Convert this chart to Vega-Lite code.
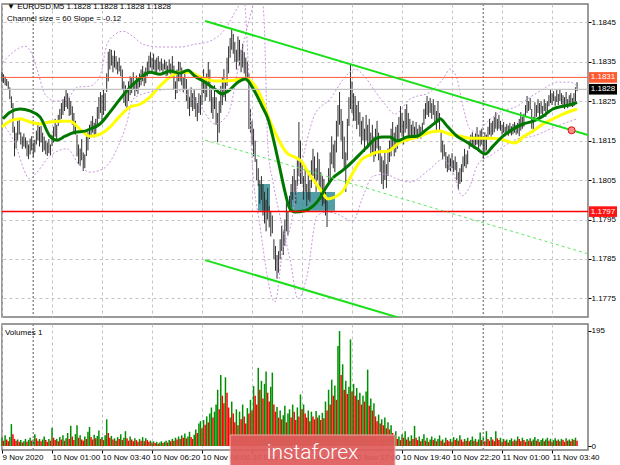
{
"$schema":"https://vega.github.io/schema/vega-lite/v6.json",
"background":"#ffffff",
"padding":{"left":-5,"top":2,"right":0,"bottom":0},
"spacing":3,
"config":{"view":{"stroke":"#7a7a7a","strokeWidth":1.5},"axis":{"labelFont":"Liberation Sans","labelFontSize":8,"labelColor":"#000000","tickColor":"#000000"},"text":{"font":"Liberation Sans"}},
"datasets":{
"bars":[
{"i":0,"h":1.18323,"l":1.18300,"v":14,"c":"g"},{"i":1,"h":1.18318,"l":1.18296,"v":9,"c":"r"},{"i":2,"h":1.18312,"l":1.18290,"v":18,"c":"g"},{"i":3,"h":1.18306,"l":1.18288,"v":11,"c":"r"},{"i":4,"h":1.18300,"l":1.18280,"v":8,"c":"r"},{"i":5,"h":1.18285,"l":1.18255,"v":15,"c":"g"},{"i":6,"h":1.18262,"l":1.18232,"v":37,"c":"g"},{"i":7,"h":1.18245,"l":1.18170,"v":20,"c":"r"},{"i":8,"h":1.18185,"l":1.18110,"v":12,"c":"r"},{"i":9,"h":1.18170,"l":1.18130,"v":9,"c":"r"},
{"i":10,"h":1.18200,"l":1.18150,"v":11,"c":"g"},{"i":11,"h":1.18205,"l":1.18165,"v":7,"c":"r"},{"i":12,"h":1.18171,"l":1.18140,"v":10,"c":"g"},{"i":13,"h":1.18160,"l":1.18129,"v":6,"c":"r"},{"i":14,"h":1.18168,"l":1.18135,"v":8,"c":"g"},{"i":15,"h":1.18158,"l":1.18130,"v":12,"c":"g"},{"i":16,"h":1.18150,"l":1.18110,"v":7,"c":"r"},{"i":17,"h":1.18140,"l":1.18103,"v":10,"c":"g"},{"i":18,"h":1.18155,"l":1.18115,"v":14,"c":"g"},{"i":19,"h":1.18161,"l":1.18125,"v":9,"c":"r"},
{"i":20,"h":1.18145,"l":1.18108,"v":11,"c":"g"},{"i":21,"h":1.18152,"l":1.18120,"v":20,"c":"g"},{"i":22,"h":1.18175,"l":1.18140,"v":13,"c":"r"},{"i":23,"h":1.18197,"l":1.18150,"v":9,"c":"r"},{"i":24,"h":1.18185,"l":1.18135,"v":12,"c":"g"},{"i":25,"h":1.18187,"l":1.18145,"v":8,"c":"r"},{"i":26,"h":1.18170,"l":1.18121,"v":11,"c":"g"},{"i":27,"h":1.18160,"l":1.18125,"v":16,"c":"g"},{"i":28,"h":1.18150,"l":1.18115,"v":10,"c":"r"},{"i":29,"h":1.18145,"l":1.18111,"v":7,"c":"r"},
{"i":30,"h":1.18154,"l":1.18118,"v":12,"c":"g"},{"i":31,"h":1.18140,"l":1.18112,"v":9,"c":"r"},{"i":32,"h":1.18165,"l":1.18136,"v":31,"c":"g"},{"i":33,"h":1.18185,"l":1.18145,"v":14,"c":"r"},{"i":34,"h":1.18205,"l":1.18160,"v":10,"c":"r"},{"i":35,"h":1.18190,"l":1.18150,"v":12,"c":"g"},{"i":36,"h":1.18215,"l":1.18187,"v":8,"c":"r"},{"i":37,"h":1.18230,"l":1.18195,"v":15,"c":"g"},{"i":38,"h":1.18245,"l":1.18205,"v":11,"c":"r"},{"i":39,"h":1.18255,"l":1.18215,"v":18,"c":"g"},
{"i":40,"h":1.18262,"l":1.18225,"v":9,"c":"r"},{"i":41,"h":1.18280,"l":1.18235,"v":13,"c":"g"},{"i":42,"h":1.18270,"l":1.18230,"v":22,"c":"g"},{"i":43,"h":1.18258,"l":1.18212,"v":12,"c":"r"},{"i":44,"h":1.18250,"l":1.18215,"v":34,"c":"g"},{"i":45,"h":1.18237,"l":1.18190,"v":16,"c":"r"},{"i":46,"h":1.18220,"l":1.18171,"v":10,"c":"r"},{"i":47,"h":1.18200,"l":1.18165,"v":20,"c":"g"},{"i":48,"h":1.18165,"l":1.18110,"v":35,"c":"g"},{"i":49,"h":1.18140,"l":1.18090,"v":14,"c":"r"},
{"i":50,"h":1.18130,"l":1.18086,"v":18,"c":"g"},{"i":51,"h":1.18154,"l":1.18100,"v":11,"c":"r"},{"i":52,"h":1.18120,"l":1.18073,"v":9,"c":"r"},{"i":53,"h":1.18115,"l":1.18080,"v":16,"c":"g"},{"i":54,"h":1.18160,"l":1.18111,"v":12,"c":"r"},{"i":55,"h":1.18171,"l":1.18125,"v":24,"c":"g"},{"i":56,"h":1.18190,"l":1.18154,"v":32,"c":"g"},{"i":57,"h":1.18200,"l":1.18160,"v":15,"c":"r"},{"i":58,"h":1.18212,"l":1.18170,"v":11,"c":"r"},{"i":59,"h":1.18195,"l":1.18158,"v":19,"c":"g"},
{"i":60,"h":1.18205,"l":1.18165,"v":13,"c":"r"},{"i":61,"h":1.18235,"l":1.18187,"v":17,"c":"g"},{"i":62,"h":1.18260,"l":1.18205,"v":26,"c":"g"},{"i":63,"h":1.18273,"l":1.18220,"v":12,"c":"r"},{"i":64,"h":1.18265,"l":1.18197,"v":15,"c":"g"},{"i":65,"h":1.18280,"l":1.18215,"v":10,"c":"r"},{"i":66,"h":1.18270,"l":1.18225,"v":18,"c":"g"},{"i":67,"h":1.18320,"l":1.18273,"v":45,"c":"g"},{"i":68,"h":1.18375,"l":1.18300,"v":22,"c":"r"},{"i":69,"h":1.18382,"l":1.18330,"v":14,"c":"r"},
{"i":70,"h":1.18380,"l":1.18340,"v":17,"c":"g"},{"i":71,"h":1.18365,"l":1.18323,"v":11,"c":"r"},{"i":72,"h":1.18378,"l":1.18335,"v":13,"c":"g"},{"i":73,"h":1.18364,"l":1.18330,"v":9,"c":"r"},{"i":74,"h":1.18350,"l":1.18318,"v":15,"c":"g"},{"i":75,"h":1.18360,"l":1.18325,"v":12,"c":"r"},{"i":76,"h":1.18340,"l":1.18313,"v":20,"c":"g"},{"i":77,"h":1.18330,"l":1.18280,"v":10,"c":"r"},{"i":78,"h":1.18300,"l":1.18245,"v":14,"c":"g"},{"i":79,"h":1.18290,"l":1.18237,"v":25,"c":"g"},
{"i":80,"h":1.18275,"l":1.18230,"v":13,"c":"r"},{"i":81,"h":1.18300,"l":1.18250,"v":9,"c":"r"},{"i":82,"h":1.18313,"l":1.18265,"v":16,"c":"g"},{"i":83,"h":1.18310,"l":1.18270,"v":11,"c":"r"},{"i":84,"h":1.18323,"l":1.18280,"v":8,"c":"r"},{"i":85,"h":1.18300,"l":1.18263,"v":13,"c":"g"},{"i":86,"h":1.18315,"l":1.18275,"v":10,"c":"r"},{"i":87,"h":1.18305,"l":1.18268,"v":7,"c":"r"},{"i":88,"h":1.18320,"l":1.18285,"v":12,"c":"g"},{"i":89,"h":1.18330,"l":1.18290,"v":9,"c":"r"},
{"i":90,"h":1.18339,"l":1.18300,"v":15,"c":"g"},{"i":91,"h":1.18325,"l":1.18288,"v":8,"c":"r"},{"i":92,"h":1.18335,"l":1.18295,"v":13,"c":"g"},{"i":93,"h":1.18350,"l":1.18313,"v":10,"c":"r"},{"i":94,"h":1.18365,"l":1.18320,"v":7,"c":"r"},{"i":95,"h":1.18374,"l":1.18335,"v":9,"c":"g"},{"i":96,"h":1.18360,"l":1.18325,"v":6,"c":"r"},{"i":97,"h":1.18370,"l":1.18330,"v":8,"c":"g"},{"i":98,"h":1.18355,"l":1.18318,"v":5,"c":"r"},{"i":99,"h":1.18360,"l":1.18323,"v":7,"c":"g"},
{"i":100,"h":1.18364,"l":1.18330,"v":4,"c":"r"},{"i":101,"h":1.18350,"l":1.18325,"v":6,"c":"g"},{"i":102,"h":1.18358,"l":1.18328,"v":8,"c":"g"},{"i":103,"h":1.18345,"l":1.18323,"v":5,"c":"r"},{"i":104,"h":1.18355,"l":1.18330,"v":7,"c":"g"},{"i":105,"h":1.18350,"l":1.18313,"v":9,"c":"g"},{"i":106,"h":1.18340,"l":1.18315,"v":6,"c":"r"},{"i":107,"h":1.18356,"l":1.18320,"v":10,"c":"g"},{"i":108,"h":1.18345,"l":1.18318,"v":8,"c":"r"},{"i":109,"h":1.18364,"l":1.18320,"v":12,"c":"g"},
{"i":110,"h":1.18340,"l":1.18280,"v":9,"c":"r"},{"i":111,"h":1.18300,"l":1.18255,"v":14,"c":"g"},{"i":112,"h":1.18330,"l":1.18270,"v":11,"c":"r"},{"i":113,"h":1.18350,"l":1.18300,"v":16,"c":"g"},{"i":114,"h":1.18349,"l":1.18300,"v":12,"c":"r"},{"i":115,"h":1.18335,"l":1.18290,"v":18,"c":"g"},{"i":116,"h":1.18310,"l":1.18273,"v":14,"c":"r"},{"i":117,"h":1.18320,"l":1.18280,"v":21,"c":"g"},{"i":118,"h":1.18306,"l":1.18250,"v":13,"c":"r"},{"i":119,"h":1.18280,"l":1.18230,"v":16,"c":"g"},
{"i":120,"h":1.18260,"l":1.18212,"v":24,"c":"g"},{"i":121,"h":1.18285,"l":1.18235,"v":15,"c":"r"},{"i":122,"h":1.18270,"l":1.18225,"v":12,"c":"r"},{"i":123,"h":1.18280,"l":1.18230,"v":19,"c":"g"},{"i":124,"h":1.18260,"l":1.18210,"v":28,"c":"g"},{"i":125,"h":1.18245,"l":1.18199,"v":22,"c":"r"},{"i":126,"h":1.18270,"l":1.18220,"v":38,"c":"g"},{"i":127,"h":1.18265,"l":1.18215,"v":42,"c":"g"},{"i":128,"h":1.18300,"l":1.18240,"v":30,"c":"r"},{"i":129,"h":1.18331,"l":1.18270,"v":44,"c":"g"},
{"i":130,"h":1.18310,"l":1.18250,"v":36,"c":"r"},{"i":131,"h":1.18320,"l":1.18260,"v":50,"c":"g"},{"i":132,"h":1.18349,"l":1.18290,"v":40,"c":"r"},{"i":133,"h":1.18330,"l":1.18250,"v":55,"c":"g"},{"i":134,"h":1.18280,"l":1.18220,"v":65,"c":"g"},{"i":135,"h":1.18260,"l":1.18205,"v":48,"c":"r"},{"i":136,"h":1.18290,"l":1.18230,"v":58,"c":"g"},{"i":137,"h":1.18260,"l":1.18190,"v":70,"c":"g"},{"i":138,"h":1.18220,"l":1.18146,"v":95,"c":"g"},{"i":139,"h":1.18250,"l":1.18170,"v":62,"c":"r"},
{"i":140,"h":1.18288,"l":1.18220,"v":120,"c":"g"},{"i":141,"h":1.18310,"l":1.18240,"v":85,"c":"r"},{"i":142,"h":1.18331,"l":1.18260,"v":72,"c":"r"},{"i":143,"h":1.18300,"l":1.18250,"v":116,"c":"g"},{"i":144,"h":1.18360,"l":1.18288,"v":90,"c":"r"},{"i":145,"h":1.18389,"l":1.18320,"v":65,"c":"r"},{"i":146,"h":1.18410,"l":1.18360,"v":48,"c":"r"},{"i":147,"h":1.18432,"l":1.18380,"v":75,"c":"g"},{"i":148,"h":1.18420,"l":1.18370,"v":55,"c":"r"},{"i":149,"h":1.18400,"l":1.18349,"v":40,"c":"r"},
{"i":150,"h":1.18380,"l":1.18330,"v":62,"c":"g"},{"i":151,"h":1.18414,"l":1.18350,"v":35,"c":"r"},{"i":152,"h":1.18405,"l":1.18340,"v":58,"c":"g"},{"i":153,"h":1.18380,"l":1.18323,"v":45,"c":"r"},{"i":154,"h":1.18395,"l":1.18335,"v":70,"c":"g"},{"i":155,"h":1.18374,"l":1.18320,"v":50,"c":"r"},{"i":156,"h":1.18360,"l":1.18306,"v":38,"c":"r"},{"i":157,"h":1.18350,"l":1.18310,"v":64,"c":"g"},{"i":158,"h":1.18320,"l":1.18179,"v":55,"c":"r"},{"i":159,"h":1.18230,"l":1.18170,"v":78,"c":"g"},
{"i":160,"h":1.18200,"l":1.18140,"v":60,"c":"r"},{"i":161,"h":1.18180,"l":1.18110,"v":101,"c":"g"},{"i":162,"h":1.18150,"l":1.18096,"v":85,"c":"r"},{"i":163,"h":1.18103,"l":1.18050,"v":70,"c":"r"},{"i":164,"h":1.18080,"l":1.18035,"v":132,"c":"g"},{"i":165,"h":1.18050,"l":1.17990,"v":95,"c":"r"},{"i":166,"h":1.18060,"l":1.18000,"v":110,"c":"g"},{"i":167,"h":1.18040,"l":1.17960,"v":80,"c":"r"},{"i":168,"h":1.18020,"l":1.17940,"v":105,"c":"g"},{"i":169,"h":1.18000,"l":1.17920,"v":126,"c":"g"},
{"i":170,"h":1.18030,"l":1.17950,"v":90,"c":"r"},{"i":171,"h":1.17984,"l":1.17930,"v":75,"c":"r"},{"i":172,"h":1.17970,"l":1.17907,"v":100,"c":"g"},{"i":173,"h":1.17960,"l":1.17915,"v":124,"c":"g"},{"i":174,"h":1.17900,"l":1.17850,"v":70,"c":"r"},{"i":175,"h":1.17883,"l":1.17820,"v":58,"c":"r"},{"i":176,"h":1.17860,"l":1.17800,"v":66,"c":"g"},{"i":177,"h":1.17870,"l":1.17815,"v":48,"c":"r"},{"i":178,"h":1.17900,"l":1.17850,"v":60,"c":"g"},{"i":179,"h":1.17934,"l":1.17870,"v":45,"c":"r"},
{"i":180,"h":1.17920,"l":1.17860,"v":52,"c":"g"},{"i":181,"h":1.17950,"l":1.17883,"v":68,"c":"g"},{"i":182,"h":1.17994,"l":1.17920,"v":40,"c":"r"},{"i":183,"h":1.17970,"l":1.17910,"v":55,"c":"g"},{"i":184,"h":1.18010,"l":1.17969,"v":62,"c":"g"},{"i":185,"h":1.18040,"l":1.17980,"v":48,"c":"r"},{"i":186,"h":1.18060,"l":1.18000,"v":70,"c":"g"},{"i":187,"h":1.18078,"l":1.18020,"v":58,"c":"r"},{"i":188,"h":1.18050,"l":1.17990,"v":44,"c":"r"},{"i":189,"h":1.18100,"l":1.18035,"v":65,"c":"g"},
{"i":190,"h":1.18197,"l":1.18060,"v":50,"c":"r"},{"i":191,"h":1.18150,"l":1.18040,"v":87,"c":"g"},{"i":192,"h":1.18100,"l":1.18040,"v":62,"c":"r"},{"i":193,"h":1.18060,"l":1.18000,"v":70,"c":"g"},{"i":194,"h":1.18086,"l":1.18020,"v":55,"c":"r"},{"i":195,"h":1.18040,"l":1.17984,"v":48,"c":"r"},{"i":196,"h":1.18070,"l":1.18000,"v":60,"c":"g"},{"i":197,"h":1.18050,"l":1.17995,"v":42,"c":"r"},{"i":198,"h":1.18100,"l":1.18030,"v":58,"c":"g"},{"i":199,"h":1.18129,"l":1.18060,"v":50,"c":"r"},
{"i":200,"h":1.18110,"l":1.18040,"v":45,"c":"r"},{"i":201,"h":1.18080,"l":1.18020,"v":59,"c":"g"},{"i":202,"h":1.18120,"l":1.18050,"v":48,"c":"r"},{"i":203,"h":1.18103,"l":1.18030,"v":52,"c":"g"},{"i":204,"h":1.18070,"l":1.18000,"v":44,"c":"r"},{"i":205,"h":1.18060,"l":1.17984,"v":56,"c":"g"},{"i":206,"h":1.18053,"l":1.17990,"v":47,"c":"r"},{"i":207,"h":1.18020,"l":1.17960,"v":75,"c":"g"},{"i":208,"h":1.18000,"l":1.17931,"v":60,"c":"r"},{"i":209,"h":1.18080,"l":1.18035,"v":95,"c":"g"},
{"i":210,"h":1.18120,"l":1.18050,"v":70,"c":"r"},{"i":211,"h":1.18161,"l":1.18090,"v":112,"c":"g"},{"i":212,"h":1.18140,"l":1.18080,"v":85,"c":"r"},{"i":213,"h":1.18150,"l":1.18070,"v":102,"c":"g"},{"i":214,"h":1.18200,"l":1.18120,"v":78,"c":"r"},{"i":215,"h":1.18240,"l":1.18160,"v":169,"c":"g"},{"i":216,"h":1.18273,"l":1.18190,"v":194,"c":"g"},{"i":217,"h":1.18230,"l":1.18150,"v":120,"c":"r"},{"i":218,"h":1.18200,"l":1.18103,"v":138,"c":"g"},{"i":219,"h":1.18160,"l":1.18080,"v":95,"c":"r"},
{"i":220,"h":1.18120,"l":1.18020,"v":110,"c":"g"},{"i":221,"h":1.18205,"l":1.18100,"v":88,"c":"r"},{"i":222,"h":1.18260,"l":1.18187,"v":100,"c":"g"},{"i":223,"h":1.18344,"l":1.18230,"v":180,"c":"g"},{"i":224,"h":1.18300,"l":1.18220,"v":92,"c":"r"},{"i":225,"h":1.18270,"l":1.18200,"v":105,"c":"g"},{"i":226,"h":1.18263,"l":1.18200,"v":85,"c":"r"},{"i":227,"h":1.18240,"l":1.18179,"v":98,"c":"g"},{"i":228,"h":1.18250,"l":1.18190,"v":78,"c":"r"},{"i":229,"h":1.18222,"l":1.18160,"v":90,"c":"g"},
{"i":230,"h":1.18200,"l":1.18140,"v":70,"c":"r"},{"i":231,"h":1.18210,"l":1.18150,"v":85,"c":"g"},{"i":232,"h":1.18180,"l":1.18121,"v":75,"c":"r"},{"i":233,"h":1.18215,"l":1.18150,"v":92,"c":"g"},{"i":234,"h":1.18190,"l":1.18130,"v":129,"c":"g"},{"i":235,"h":1.18205,"l":1.18140,"v":68,"c":"r"},{"i":236,"h":1.18170,"l":1.18110,"v":80,"c":"g"},{"i":237,"h":1.18190,"l":1.18120,"v":60,"c":"r"},{"i":238,"h":1.18160,"l":1.18096,"v":72,"c":"g"},{"i":239,"h":1.18180,"l":1.18110,"v":50,"c":"r"},
{"i":240,"h":1.18200,"l":1.18130,"v":42,"c":"r"},{"i":241,"h":1.18170,"l":1.18100,"v":53,"c":"g"},{"i":242,"h":1.18136,"l":1.18070,"v":38,"c":"r"},{"i":243,"h":1.18110,"l":1.18040,"v":45,"c":"g"},{"i":244,"h":1.18100,"l":1.18027,"v":35,"c":"r"},{"i":245,"h":1.18120,"l":1.18050,"v":48,"c":"g"},{"i":246,"h":1.18090,"l":1.18030,"v":30,"c":"r"},{"i":247,"h":1.18130,"l":1.18060,"v":40,"c":"g"},{"i":248,"h":1.18150,"l":1.18096,"v":28,"c":"r"},{"i":249,"h":1.18180,"l":1.18110,"v":35,"c":"g"},
{"i":250,"h":1.18197,"l":1.18130,"v":22,"c":"r"},{"i":251,"h":1.18170,"l":1.18110,"v":18,"c":"r"},{"i":252,"h":1.18185,"l":1.18120,"v":25,"c":"g"},{"i":253,"h":1.18190,"l":1.18129,"v":12,"c":"r"},{"i":254,"h":1.18210,"l":1.18150,"v":16,"c":"g"},{"i":255,"h":1.18237,"l":1.18170,"v":10,"c":"r"},{"i":256,"h":1.18220,"l":1.18160,"v":20,"c":"g"},{"i":257,"h":1.18200,"l":1.18140,"v":14,"c":"r"},{"i":258,"h":1.18230,"l":1.18170,"v":25,"c":"g"},{"i":259,"h":1.18242,"l":1.18180,"v":11,"c":"r"},
{"i":260,"h":1.18220,"l":1.18161,"v":15,"c":"g"},{"i":261,"h":1.18205,"l":1.18160,"v":9,"c":"r"},{"i":262,"h":1.18190,"l":1.18154,"v":18,"c":"g"},{"i":263,"h":1.18200,"l":1.18160,"v":12,"c":"r"},{"i":264,"h":1.18185,"l":1.18155,"v":34,"c":"g"},{"i":265,"h":1.18197,"l":1.18160,"v":14,"c":"r"},{"i":266,"h":1.18180,"l":1.18154,"v":10,"c":"r"},{"i":267,"h":1.18190,"l":1.18158,"v":16,"c":"g"},{"i":268,"h":1.18185,"l":1.18155,"v":8,"c":"r"},{"i":269,"h":1.18195,"l":1.18165,"v":12,"c":"g"},
{"i":270,"h":1.18230,"l":1.18190,"v":20,"c":"g"},{"i":271,"h":1.18245,"l":1.18205,"v":9,"c":"r"},{"i":272,"h":1.18263,"l":1.18215,"v":14,"c":"g"},{"i":273,"h":1.18250,"l":1.18210,"v":7,"c":"r"},{"i":274,"h":1.18258,"l":1.18220,"v":11,"c":"g"},{"i":275,"h":1.18245,"l":1.18205,"v":16,"c":"g"},{"i":276,"h":1.18255,"l":1.18215,"v":10,"c":"r"},{"i":277,"h":1.18240,"l":1.18190,"v":13,"c":"g"},{"i":278,"h":1.18225,"l":1.18171,"v":8,"c":"r"},{"i":279,"h":1.18250,"l":1.18195,"v":12,"c":"g"},
{"i":280,"h":1.18220,"l":1.18175,"v":18,"c":"g"},{"i":281,"h":1.18171,"l":1.18120,"v":9,"c":"r"},{"i":282,"h":1.18150,"l":1.18103,"v":11,"c":"g"},{"i":283,"h":1.18140,"l":1.18110,"v":6,"c":"r"},{"i":284,"h":1.18121,"l":1.18080,"v":14,"c":"g"},{"i":285,"h":1.18110,"l":1.18070,"v":10,"c":"r"},{"i":286,"h":1.18115,"l":1.18075,"v":8,"c":"r"},{"i":287,"h":1.18105,"l":1.18072,"v":12,"c":"g"},{"i":288,"h":1.18118,"l":1.18080,"v":7,"c":"r"},{"i":289,"h":1.18100,"l":1.18070,"v":15,"c":"g"},
{"i":290,"h":1.18110,"l":1.18075,"v":10,"c":"r"},{"i":291,"h":1.18096,"l":1.18050,"v":13,"c":"g"},{"i":292,"h":1.18070,"l":1.18027,"v":9,"c":"r"},{"i":293,"h":1.18080,"l":1.18040,"v":18,"c":"g"},{"i":294,"h":1.18090,"l":1.18045,"v":11,"c":"r"},{"i":295,"h":1.18110,"l":1.18070,"v":7,"c":"r"},{"i":296,"h":1.18129,"l":1.18085,"v":12,"c":"g"},{"i":297,"h":1.18115,"l":1.18080,"v":9,"c":"r"},{"i":298,"h":1.18125,"l":1.18090,"v":14,"c":"g"},{"i":299,"h":1.18150,"l":1.18129,"v":8,"c":"r"},
{"i":300,"h":1.18165,"l":1.18135,"v":10,"c":"g"},{"i":301,"h":1.18171,"l":1.18140,"v":16,"c":"g"},{"i":302,"h":1.18160,"l":1.18130,"v":9,"c":"r"},{"i":303,"h":1.18168,"l":1.18138,"v":12,"c":"g"},{"i":304,"h":1.18184,"l":1.18140,"v":7,"c":"r"},{"i":305,"h":1.18165,"l":1.18121,"v":11,"c":"g"},{"i":306,"h":1.18175,"l":1.18135,"v":23,"c":"g"},{"i":307,"h":1.18180,"l":1.18140,"v":10,"c":"r"},{"i":308,"h":1.18160,"l":1.18103,"v":14,"c":"g"},{"i":309,"h":1.18171,"l":1.18120,"v":8,"c":"r"},
{"i":310,"h":1.18165,"l":1.18125,"v":25,"c":"g"},{"i":311,"h":1.18185,"l":1.18154,"v":12,"c":"r"},{"i":312,"h":1.18205,"l":1.18165,"v":9,"c":"r"},{"i":313,"h":1.18195,"l":1.18160,"v":15,"c":"g"},{"i":314,"h":1.18200,"l":1.18165,"v":11,"c":"r"},{"i":315,"h":1.18210,"l":1.18171,"v":8,"c":"r"},{"i":316,"h":1.18222,"l":1.18180,"v":25,"c":"g"},{"i":317,"h":1.18205,"l":1.18175,"v":13,"c":"r"},{"i":318,"h":1.18215,"l":1.18180,"v":10,"c":"r"},{"i":319,"h":1.18200,"l":1.18175,"v":14,"c":"g"},
{"i":320,"h":1.18190,"l":1.18165,"v":7,"c":"r"},{"i":321,"h":1.18197,"l":1.18170,"v":12,"c":"g"},{"i":322,"h":1.18185,"l":1.18161,"v":9,"c":"r"},{"i":323,"h":1.18192,"l":1.18165,"v":11,"c":"g"},{"i":324,"h":1.18188,"l":1.18162,"v":6,"c":"r"},{"i":325,"h":1.18195,"l":1.18168,"v":10,"c":"g"},{"i":326,"h":1.18186,"l":1.18163,"v":13,"c":"g"},{"i":327,"h":1.18192,"l":1.18166,"v":8,"c":"r"},{"i":328,"h":1.18197,"l":1.18170,"v":11,"c":"g"},{"i":329,"h":1.18190,"l":1.18165,"v":9,"c":"r"},
{"i":330,"h":1.18195,"l":1.18168,"v":16,"c":"g"},{"i":331,"h":1.18205,"l":1.18161,"v":12,"c":"r"},{"i":332,"h":1.18222,"l":1.18175,"v":8,"c":"r"},{"i":333,"h":1.18210,"l":1.18180,"v":14,"c":"g"},{"i":334,"h":1.18218,"l":1.18185,"v":10,"c":"r"},{"i":335,"h":1.18240,"l":1.18212,"v":7,"c":"r"},{"i":336,"h":1.18263,"l":1.18220,"v":12,"c":"g"},{"i":337,"h":1.18250,"l":1.18225,"v":9,"c":"r"},{"i":338,"h":1.18258,"l":1.18228,"v":13,"c":"g"},{"i":339,"h":1.18230,"l":1.18180,"v":8,"c":"r"},
{"i":340,"h":1.18210,"l":1.18171,"v":11,"c":"g"},{"i":341,"h":1.18247,"l":1.18200,"v":15,"c":"g"},{"i":342,"h":1.18240,"l":1.18210,"v":9,"c":"r"},{"i":343,"h":1.18255,"l":1.18220,"v":12,"c":"g"},{"i":344,"h":1.18245,"l":1.18205,"v":7,"c":"r"},{"i":345,"h":1.18250,"l":1.18218,"v":10,"c":"g"},{"i":346,"h":1.18238,"l":1.18208,"v":13,"c":"g"},{"i":347,"h":1.18255,"l":1.18225,"v":8,"c":"r"},{"i":348,"h":1.18245,"l":1.18210,"v":11,"c":"g"},{"i":349,"h":1.18250,"l":1.18220,"v":14,"c":"g"},
{"i":350,"h":1.18265,"l":1.18237,"v":9,"c":"r"},{"i":351,"h":1.18280,"l":1.18245,"v":12,"c":"g"},{"i":352,"h":1.18270,"l":1.18240,"v":7,"c":"r"},{"i":353,"h":1.18275,"l":1.18250,"v":10,"c":"g"},{"i":354,"h":1.18262,"l":1.18238,"v":13,"c":"g"},{"i":355,"h":1.18278,"l":1.18248,"v":9,"c":"r"},{"i":356,"h":1.18268,"l":1.18240,"v":11,"c":"g"},{"i":357,"h":1.18280,"l":1.18250,"v":8,"c":"r"},{"i":358,"h":1.18270,"l":1.18242,"v":12,"c":"g"},{"i":359,"h":1.18265,"l":1.18237,"v":10,"c":"r"},
{"i":360,"h":1.18260,"l":1.18230,"v":7,"c":"r"},{"i":361,"h":1.18273,"l":1.18240,"v":13,"c":"g"},{"i":362,"h":1.18255,"l":1.18232,"v":9,"c":"r"},{"i":363,"h":1.18265,"l":1.18238,"v":11,"c":"g"},{"i":364,"h":1.18270,"l":1.18242,"v":8,"c":"r"},{"i":365,"h":1.18258,"l":1.18235,"v":12,"c":"g"},{"i":366,"h":1.18270,"l":1.18237,"v":10,"c":"r"},{"i":367,"h":1.18285,"l":1.18250,"v":14,"c":"g"},{"i":368,"h":1.18298,"l":1.18275,"v":9,"c":"r"}
],
"ma":[
{"i":0.6,"p":1.18205,"s":"fast"},{"i":5.1,"p":1.18222,"s":"fast"},{"i":11.5,"p":1.1823,"s":"fast"},{"i":17.9,"p":1.18225,"s":"fast"},{"i":24.3,"p":1.1821,"s":"fast"},{"i":30.7,"p":1.18161,"s":"fast"},{"i":35.2,"p":1.18151,"s":"fast"},{"i":40.3,"p":1.18161,"s":"fast"},{"i":46.7,"p":1.18171,"s":"fast"},{"i":53.1,"p":1.18174,"s":"fast"},{"i":56.3,"p":1.18179,"s":"fast"},{"i":62.7,"p":1.18192,"s":"fast"},{"i":69.1,"p":1.18222,"s":"fast"},{"i":75.5,"p":1.18255,"s":"fast"},{"i":81.9,"p":1.18285,"s":"fast"},{"i":88.3,"p":1.18308,"s":"fast"},{"i":94.7,"p":1.18323,"s":"fast"},{"i":101.1,"p":1.18318,"s":"fast"},{"i":107.5,"p":1.18326,"s":"fast"},{"i":113.9,"p":1.18321,"s":"fast"},{"i":119,"p":1.18328,"s":"fast"},{"i":123.5,"p":1.18313,"s":"fast"},{"i":129.9,"p":1.18298,"s":"fast"},{"i":136.3,"p":1.1828,"s":"fast"},{"i":140.8,"p":1.18268,"s":"fast"},{"i":144.6,"p":1.18275,"s":"fast"},{"i":151,"p":1.18298,"s":"fast"},{"i":155.5,"p":1.18306,"s":"fast"},{"i":161.9,"p":1.18273,"s":"fast"},{"i":166.4,"p":1.18237,"s":"fast"},{"i":170.2,"p":1.18205,"s":"fast"},{"i":174.7,"p":1.18136,"s":"fast"},{"i":177.9,"p":1.18078,"s":"fast"},{"i":181.1,"p":1.1802,"s":"fast"},{"i":184.3,"p":1.17977,"s":"fast"},{"i":187.5,"p":1.17969,"s":"fast"},{"i":193.9,"p":1.17972,"s":"fast"},{"i":198.4,"p":1.17982,"s":"fast"},{"i":202.2,"p":1.17997,"s":"fast"},{"i":206.7,"p":1.18027,"s":"fast"},{"i":211.2,"p":1.18053,"s":"fast"},{"i":217.6,"p":1.18073,"s":"fast"},{"i":221.4,"p":1.18086,"s":"fast"},{"i":225.9,"p":1.18103,"s":"fast"},{"i":230.4,"p":1.18121,"s":"fast"},{"i":234.2,"p":1.18136,"s":"fast"},{"i":238.7,"p":1.18154,"s":"fast"},{"i":243.2,"p":1.18159,"s":"fast"},{"i":248.3,"p":1.18159,"s":"fast"},{"i":252.8,"p":1.18149,"s":"fast"},{"i":259.2,"p":1.18159,"s":"fast"},{"i":265.6,"p":1.18161,"s":"fast"},{"i":272,"p":1.18179,"s":"fast"},{"i":278.4,"p":1.18199,"s":"fast"},{"i":280.3,"p":1.18205,"s":"fast"},{"i":284.8,"p":1.18187,"s":"fast"},{"i":291.2,"p":1.18161,"s":"fast"},{"i":297.6,"p":1.18146,"s":"fast"},{"i":304,"p":1.18129,"s":"fast"},{"i":309.1,"p":1.18116,"s":"fast"},{"i":314.2,"p":1.18136,"s":"fast"},{"i":320.6,"p":1.18161,"s":"fast"},{"i":327,"p":1.18179,"s":"fast"},{"i":333.4,"p":1.18192,"s":"fast"},{"i":339.8,"p":1.18199,"s":"fast"},{"i":346.2,"p":1.18212,"s":"fast"},{"i":352.6,"p":1.1823,"s":"fast"},{"i":359,"p":1.18237,"s":"fast"},{"i":364.8,"p":1.18242,"s":"fast"},{"i":368,"p":1.18247,"s":"fast"},
{"i":0,"p":1.18184,"s":"slow"},{"i":5.1,"p":1.18199,"s":"slow"},{"i":11.5,"p":1.18205,"s":"slow"},{"i":17.9,"p":1.18197,"s":"slow"},{"i":24.3,"p":1.18192,"s":"slow"},{"i":30.7,"p":1.18197,"s":"slow"},{"i":37.1,"p":1.18199,"s":"slow"},{"i":43.5,"p":1.18199,"s":"slow"},{"i":49.9,"p":1.18179,"s":"slow"},{"i":56.3,"p":1.18161,"s":"slow"},{"i":62.7,"p":1.18166,"s":"slow"},{"i":69.1,"p":1.18184,"s":"slow"},{"i":75.5,"p":1.18212,"s":"slow"},{"i":81.9,"p":1.18235,"s":"slow"},{"i":88.3,"p":1.18242,"s":"slow"},{"i":94.7,"p":1.1826,"s":"slow"},{"i":101.1,"p":1.18288,"s":"slow"},{"i":107.5,"p":1.18311,"s":"slow"},{"i":113.9,"p":1.18323,"s":"slow"},{"i":120.3,"p":1.18323,"s":"slow"},{"i":126.7,"p":1.18311,"s":"slow"},{"i":136.3,"p":1.18301,"s":"slow"},{"i":142.7,"p":1.18301,"s":"slow"},{"i":149.1,"p":1.18303,"s":"slow"},{"i":155.5,"p":1.18308,"s":"slow"},{"i":160,"p":1.18298,"s":"slow"},{"i":166.4,"p":1.18255,"s":"slow"},{"i":170.2,"p":1.18212,"s":"slow"},{"i":174.7,"p":1.18171,"s":"slow"},{"i":179.2,"p":1.18136,"s":"slow"},{"i":183,"p":1.18116,"s":"slow"},{"i":187.5,"p":1.18108,"s":"slow"},{"i":192,"p":1.18096,"s":"slow"},{"i":195.8,"p":1.1807,"s":"slow"},{"i":200.3,"p":1.18045,"s":"slow"},{"i":204.8,"p":1.1802,"s":"slow"},{"i":208.6,"p":1.18002,"s":"slow"},{"i":213.1,"p":1.18007,"s":"slow"},{"i":217.6,"p":1.1802,"s":"slow"},{"i":221.4,"p":1.18045,"s":"slow"},{"i":225.9,"p":1.18078,"s":"slow"},{"i":230.4,"p":1.18103,"s":"slow"},{"i":234.2,"p":1.18111,"s":"slow"},{"i":240.6,"p":1.18121,"s":"slow"},{"i":247,"p":1.18123,"s":"slow"},{"i":254.7,"p":1.18146,"s":"slow"},{"i":261.1,"p":1.18154,"s":"slow"},{"i":267.5,"p":1.18161,"s":"slow"},{"i":273.9,"p":1.18171,"s":"slow"},{"i":280.3,"p":1.18174,"s":"slow"},{"i":286.7,"p":1.18166,"s":"slow"},{"i":293.1,"p":1.18161,"s":"slow"},{"i":299.5,"p":1.18156,"s":"slow"},{"i":305.9,"p":1.18156,"s":"slow"},{"i":312.3,"p":1.18156,"s":"slow"},{"i":318.7,"p":1.18154,"s":"slow"},{"i":325.1,"p":1.18146,"s":"slow"},{"i":328.3,"p":1.18144,"s":"slow"},{"i":333.4,"p":1.18159,"s":"slow"},{"i":339.8,"p":1.18174,"s":"slow"},{"i":346.2,"p":1.18192,"s":"slow"},{"i":352.6,"p":1.18205,"s":"slow"},{"i":359,"p":1.18217,"s":"slow"},{"i":368,"p":1.1823,"s":"slow"}
],
"bands":[
{"i":0.6,"p":1.18348,"b":"A"},{"i":7,"p":1.18374,"b":"A"},{"i":14.7,"p":1.18389,"b":"A"},{"i":19.2,"p":1.18369,"b":"A"},{"i":22.4,"p":1.18331,"b":"A"},{"i":27.5,"p":1.18268,"b":"A"},{"i":33.9,"p":1.1825,"b":"A"},{"i":41.6,"p":1.18255,"b":"A"},{"i":48,"p":1.18285,"b":"A"},{"i":56.3,"p":1.18288,"b":"A"},{"i":62.7,"p":1.18313,"b":"A"},{"i":67.2,"p":1.18394,"b":"A"},{"i":72.3,"p":1.18419,"b":"A"},{"i":77.4,"p":1.18427,"b":"A"},{"i":83.8,"p":1.18414,"b":"A"},{"i":90.2,"p":1.18394,"b":"A"},{"i":101.1,"p":1.18387,"b":"A"},{"i":113.9,"p":1.18387,"b":"A"},{"i":123.5,"p":1.18394,"b":"A"},{"i":133.1,"p":1.18402,"b":"A"},{"i":142.7,"p":1.18432,"b":"A"},{"i":151,"p":1.18488,"b":"A"},{"i":154.9,"p":1.18508,"b":"A"},{"i":157.4,"p":1.18356,"b":"A"},{"i":160,"p":1.18103,"b":"A"},{"i":165.1,"p":1.17934,"b":"A"},{"i":174.7,"p":1.17741,"b":"A"},{"i":179.8,"p":1.17876,"b":"A"},{"i":184.3,"p":1.17926,"b":"A"},{"i":188.8,"p":1.18027,"b":"A"},{"i":193.9,"p":1.18129,"b":"A"},{"i":200.3,"p":1.18217,"b":"A"},{"i":209.9,"p":1.18255,"b":"A"},{"i":219.5,"p":1.18311,"b":"A"},{"i":225.9,"p":1.18331,"b":"A"},{"i":232.3,"p":1.18311,"b":"A"},{"i":238.7,"p":1.18275,"b":"A"},{"i":245.1,"p":1.18242,"b":"A"},{"i":251.5,"p":1.18217,"b":"A"},{"i":261.1,"p":1.18255,"b":"A"},{"i":273.9,"p":1.18273,"b":"A"},{"i":282.2,"p":1.18306,"b":"A"},{"i":286.7,"p":1.18331,"b":"A"},{"i":291.2,"p":1.18306,"b":"A"},{"i":295,"p":1.18237,"b":"A"},{"i":299.5,"p":1.18179,"b":"A"},{"i":304,"p":1.18171,"b":"A"},{"i":310.4,"p":1.18197,"b":"A"},{"i":318.7,"p":1.18222,"b":"A"},{"i":329.6,"p":1.18237,"b":"A"},{"i":338,"p":1.1826,"b":"A"},{"i":346.2,"p":1.1828,"b":"A"},{"i":355.2,"p":1.18298,"b":"A"},{"i":363.5,"p":1.18298,"b":"A"},{"i":368,"p":1.18288,"b":"A"},
{"i":0.6,"p":1.18192,"b":"B"},{"i":7,"p":1.18154,"b":"B"},{"i":17.9,"p":1.18053,"b":"B"},{"i":22.4,"p":1.1807,"b":"B"},{"i":30.7,"p":1.18111,"b":"B"},{"i":41.6,"p":1.18129,"b":"B"},{"i":49.9,"p":1.18086,"b":"B"},{"i":56.3,"p":1.1807,"b":"B"},{"i":64.6,"p":1.18078,"b":"B"},{"i":73.6,"p":1.18129,"b":"B"},{"i":80,"p":1.18197,"b":"B"},{"i":83.8,"p":1.18255,"b":"B"},{"i":94.7,"p":1.18273,"b":"B"},{"i":109.4,"p":1.1828,"b":"B"},{"i":126.7,"p":1.18237,"b":"B"},{"i":136.3,"p":1.18192,"b":"B"},{"i":144.6,"p":1.18217,"b":"B"},{"i":152.3,"p":1.18356,"b":"B"},{"i":160,"p":1.18483,"b":"B"},{"i":165.1,"p":1.18546,"b":"B"},{"i":167.7,"p":1.18457,"b":"B"},{"i":170.2,"p":1.18129,"b":"B"},{"i":173.4,"p":1.18045,"b":"B"},{"i":177.9,"p":1.17959,"b":"B"},{"i":184.3,"p":1.1785,"b":"B"},{"i":189.4,"p":1.17749,"b":"B"},{"i":195.2,"p":1.17807,"b":"B"},{"i":201.6,"p":1.17959,"b":"B"},{"i":208,"p":1.17969,"b":"B"},{"i":214.4,"p":1.17964,"b":"B"},{"i":224.6,"p":1.17946,"b":"B"},{"i":230.4,"p":1.18002,"b":"B"},{"i":237.4,"p":1.1806,"b":"B"},{"i":245.1,"p":1.18065,"b":"B"},{"i":252.8,"p":1.18053,"b":"B"},{"i":261.1,"p":1.18045,"b":"B"},{"i":273.9,"p":1.18078,"b":"B"},{"i":282.2,"p":1.18103,"b":"B"},{"i":288.6,"p":1.1807,"b":"B"},{"i":294.4,"p":1.1801,"b":"B"},{"i":299.5,"p":1.18035,"b":"B"},{"i":304,"p":1.18086,"b":"B"},{"i":307.8,"p":1.18103,"b":"B"},{"i":312.3,"p":1.18111,"b":"B"},{"i":318.7,"p":1.18129,"b":"B"},{"i":329.6,"p":1.18154,"b":"B"},{"i":339.8,"p":1.18161,"b":"B"},{"i":350.7,"p":1.18179,"b":"B"},{"i":363.5,"p":1.18199,"b":"B"},{"i":368,"p":1.18205,"b":"B"}
],
"trend":[{"i":130,"p":1.18453,"t":"upper"},{"i":375,"p":1.18164,"t":"upper"},{"i":130,"p":1.17847,"t":"lower"},{"i":375,"p":1.17559,"t":"lower"}],
"trendMid":[{"i":130,"p":1.18151},{"i":375,"p":1.17863}],
"levels":[{"p":1.1831,"name":"resistance"},{"p":1.1828,"name":"bid"},{"p":1.1797,"name":"support"}],
"zones":[{"i1":163.8,"i2":171.5,"p1":1.17972,"p2":1.1804},{"i1":184.3,"i2":213.1,"p1":1.17972,"p2":1.1802}],
"seps":[{"i":20},{"i":308}],
"alert":[{"i":364.5,"p":1.18176}]
},
"vconcat":[
{"width":586,"height":313,
"layer":[
{"data":{"name":"zones"},"mark":{"type":"rect","color":"#23838c","opacity":0.78},
 "encoding":{"x":{"field":"i1","type":"quantitative","scale":{"domain":[0,375],"nice":false,"zero":false},"title":null,"axis":{"values":[0,16,32,48,64,80,96,112,128,144,160,176,192,208,224,240,256,272,288,304,320,336,352,368],"labels":false,"ticks":false,"domain":false,"grid":true,"gridColor":"#c4c4c4","gridDash":[3,3]}},"x2":{"field":"i2"},"y":{"field":"p1","type":"quantitative","scale":{"domain":[1.17703,1.18496],"nice":false,"zero":false},"title":null,"axis":{"orient":"right","values":[1.1775,1.1785,1.1795,1.1805,1.1815,1.1825,1.1835,1.1845],"format":".4f","grid":true,"gridColor":"#c4c4c4","gridDash":[3,3],"tickSize":3,"labelPadding":0,"domain":false}},"y2":{"field":"p2"}}},
{"data":{"name":"seps"},"mark":{"type":"rule","color":"#8c8c8c","strokeDash":[2,2],"strokeWidth":1.5},
 "encoding":{"x":{"field":"i","type":"quantitative"}}},
{"data":{"name":"bars"},"mark":{"type":"rule","color":"#2e2e2e","strokeWidth":1},
 "encoding":{"x":{"field":"i","type":"quantitative"},"y":{"field":"l","type":"quantitative"},"y2":{"field":"h"}}},
{"data":{"name":"bands"},"mark":{"type":"line","color":"#c996dc","strokeWidth":1,"strokeDash":[2,2],"interpolate":"monotone","clip":true},
 "encoding":{"x":{"field":"i","type":"quantitative"},"y":{"field":"p","type":"quantitative"},"detail":{"field":"b"}}},
{"data":{"name":"ma"},"transform":[{"filter":"datum.s == 'slow'"}],"mark":{"type":"line","color":"#ffff00","strokeWidth":3,"interpolate":"monotone"},
 "encoding":{"x":{"field":"i","type":"quantitative"},"y":{"field":"p","type":"quantitative"}}},
{"data":{"name":"ma"},"transform":[{"filter":"datum.s == 'fast'"}],"mark":{"type":"line","color":"#007800","strokeWidth":3,"interpolate":"monotone"},
 "encoding":{"x":{"field":"i","type":"quantitative"},"y":{"field":"p","type":"quantitative"}}},
{"data":{"name":"levels"},"mark":{"type":"rule"},
 "encoding":{"y":{"field":"p","type":"quantitative"},"stroke":{"field":"name","type":"nominal","scale":{"domain":["resistance","bid","support"],"range":["#ff5b3b","#c2c2c2","#ff0000"]},"legend":null},"strokeWidth":{"field":"name","type":"nominal","scale":{"domain":["resistance","bid","support"],"range":[1,1.5,2]},"legend":null}}},
{"data":{"name":"trend"},"mark":{"type":"line","color":"#19e019","strokeWidth":2,"clip":true},
 "encoding":{"x":{"field":"i","type":"quantitative"},"y":{"field":"p","type":"quantitative"},"detail":{"field":"t"}}},
{"data":{"name":"trendMid"},"mark":{"type":"line","color":"#5fe85f","strokeWidth":1,"strokeDash":[3,3],"clip":true},
 "encoding":{"x":{"field":"i","type":"quantitative"},"y":{"field":"p","type":"quantitative"}}},
{"data":{"name":"alert"},"mark":{"type":"point","filled":true,"fill":"#ff8a8a","stroke":"#e01010","strokeWidth":1,"size":50,"opacity":1},
 "encoding":{"x":{"field":"i","type":"quantitative"},"y":{"field":"p","type":"quantitative"}}},
{"data":{"values":[{"t":"▼ EURUSD,M5  1.1828 1.1828 1.1828 1.1828","i":3.2,"p":1.18488},{"t":"Channel size = 60 Slope = -0.12","i":3.2,"p":1.18457}]},"mark":{"type":"text","align":"left","baseline":"middle","fontSize":8,"font":"Liberation Sans","color":"#000000"},
 "encoding":{"x":{"field":"i","type":"quantitative"},"y":{"field":"p","type":"quantitative"},"text":{"field":"t"}}},
{"data":{"name":"levels"},"mark":{"type":"point","shape":"M-1,-0.38H1V0.38H-1Z","size":784,"filled":true,"opacity":1,"strokeWidth":0},
 "encoding":{"x":{"datum":384.6,"type":"quantitative"},"y":{"field":"p","type":"quantitative"},"fill":{"field":"name","type":"nominal","scale":{"domain":["resistance","bid","support"],"range":["#ff5a30","#000000","#ff1414"]},"legend":null}}},
{"data":{"name":"levels"},"mark":{"type":"text","color":"#ffffff","fontSize":8,"font":"Liberation Sans","align":"center","baseline":"middle"},
 "encoding":{"x":{"datum":384.6,"type":"quantitative"},"y":{"field":"p","type":"quantitative"},"text":{"field":"p","type":"quantitative","format":".4f"}}}
]},
{"width":586,"height":126,
"layer":[
{"data":{"name":"bars"},"mark":{"type":"rule","strokeWidth":1.5},
 "encoding":{"x":{"field":"i","type":"quantitative","scale":{"domain":[0,375],"nice":false,"zero":false},"title":null,"axis":{"orient":"bottom","values":[0,16,32,48,64,80,96,112,128,144,160,176,192,208,224,240,256,272,288,304,320,336,352,368],"grid":true,"gridColor":"#c4c4c4","gridDash":[3,3],"domain":false,"tickSize":3,"tickOpacity":{"condition":{"test":"datum.value % 32 === 0","value":1},"value":0},"labelExpr":"datum.value % 32 != 0 ? '' : (datum.value == 0 ? '9 Nov 2020' : timeFormat(datetime(2020, 10, 9, 22, 20 + 5 * datum.value), '%-d %b %H:%M'))","labelAlign":"left","labelFlush":false,"labelOverlap":false,"labelPadding":0,"labelBound":false}},"y":{"field":"v","type":"quantitative","scale":{"domain":[-6.75,206],"nice":false,"zero":false},"title":null,"axis":{"orient":"right","values":[0,195],"grid":false,"domain":false,"tickSize":3,"labelPadding":0}},"y2":{"datum":0},"color":{"field":"c","type":"nominal","scale":{"domain":["g","r"],"range":["#008f00","#ff0000"]},"legend":null}}},
{"data":{"name":"seps"},"mark":{"type":"rule","color":"#8c8c8c","strokeDash":[2,2],"strokeWidth":1.5},
 "encoding":{"x":{"field":"i","type":"quantitative"}}},
{"data":{"values":[{"t":"Volumes 1","i":1.9,"v":190.8}]},"mark":{"type":"text","align":"left","baseline":"middle","fontSize":8,"font":"Liberation Sans","color":"#000000"},
 "encoding":{"x":{"field":"i","type":"quantitative"},"y":{"field":"v","type":"quantitative"},"text":{"field":"t"}}},
{"data":{"values":[{"t":"instaforex","i":146,"i2":251.5,"v":18.6,"v2":-37}]},"mark":{"type":"rect","color":"#e05c5c","opacity":0.93,"stroke":"#f4b4b4","strokeWidth":1},
 "encoding":{"x":{"field":"i","type":"quantitative"},"x2":{"field":"i2"},"y":{"field":"v","type":"quantitative"},"y2":{"field":"v2"}}},
{"data":{"values":[{"t":"instaforex","i":198.7,"v":-11}]},"mark":{"type":"text","font":"Roboto","fontWeight":300,"fontSize":21,"color":"#ffffff","align":"center","baseline":"middle"},
 "encoding":{"x":{"field":"i","type":"quantitative"},"y":{"field":"v","type":"quantitative"},"text":{"field":"t"}}}
]}
]
}
